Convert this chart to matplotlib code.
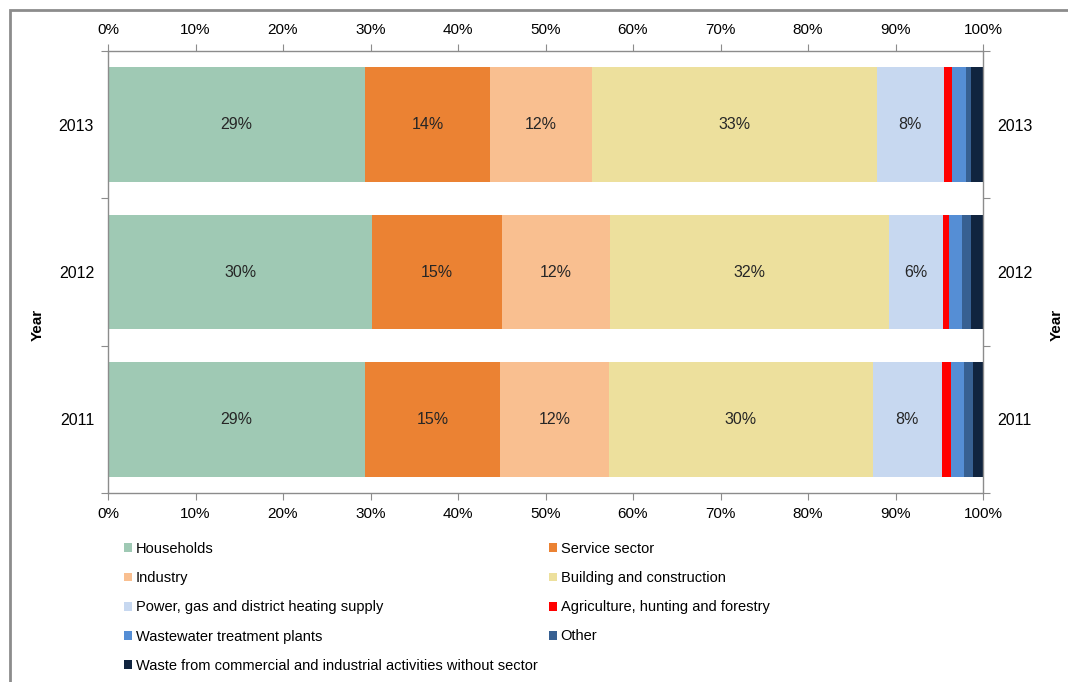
import matplotlib
matplotlib.use("Agg")
import matplotlib.pyplot as plt
from matplotlib.patches import Patch, Rectangle

plt.rcParams['font.family'] = ['Liberation Sans', 'DejaVu Sans']

years = ["2011", "2012", "2013"]
categories = [
    "Households",
    "Service sector",
    "Industry",
    "Building and construction",
    "Power, gas and district heating supply",
    "Agriculture, hunting and forestry",
    "Wastewater treatment plants",
    "Other",
    "Waste from commercial and industrial activities without sector",
]
# shares (%) per category, order: 2011, 2012, 2013
households = [29.4, 30.2, 29.4]
service = [15.4, 14.8, 14.3]
industry = [12.4, 12.4, 11.6]
building = [30.2, 31.9, 32.6]
power = [7.9, 6.1, 7.6]
agriculture = [1.0, 0.7, 1.0]
wastewater = [1.5, 1.5, 1.5]
other = [1.0, 1.0, 0.6]
waste = [1.2, 1.4, 1.4]
series = [households, service, industry, building, power,
          agriculture, wastewater, other, waste]
colors = ["#9FC9B4", "#EB8233", "#F9BF90", "#EDE09D", "#C7D8F0",
          "#FF0000", "#558ED5", "#376092", "#10243F"]
xticks = [0, 10, 20, 30, 40, 50, 60, 70, 80, 90, 100]

W, H = 1068, 682
fig = plt.figure(figsize=(W / 100, H / 100), dpi=100)
ax = fig.add_axes([108 / W, 1 - 493 / H, (983 - 108) / W, (493 - 51) / H])

# figure frame
fig.patches.append(Rectangle((10 / W, -0.1), 1.2, 1.1 - 10 / H, transform=fig.transFigure,
                             fill=False, edgecolor="#8c8c8c", linewidth=2))

ypos = list(range(len(years)))
left = [0.0] * len(years)
for name, vals, col in zip(categories, series, colors):
    ax.barh(ypos, vals, left=left, height=0.78, color=col, label=name, linewidth=0)
    for y, v, l in zip(ypos, vals, left):
        if v >= 5:
            ax.text(l + v / 2, y, f"{round(v):.0f}%", ha="center", va="center",
                    fontsize=11.5, color="#262626")
    left = [a + b for a, b in zip(left, vals)]

ax.set_xlim(0, 100)
ax.set_ylim(-0.5, 2.5)
ax.set_xticks(xticks)
ax.set_xticklabels([f"{t}%" for t in xticks])
ax.tick_params(axis="x", which="major", top=True, labeltop=True, bottom=True, labelbottom=True,
               direction="out", length=5, color="#8c8c8c", labelsize=11, pad=5)
ax.set_yticks([-0.5, 0.5, 1.5, 2.5])
ax.set_yticklabels([])
ax.set_yticks(ypos, minor=True)
ax.set_yticklabels(years, minor=True)
ax.tick_params(axis="y", which="major", left=True, right=True, direction="out",
               length=5, color="#8c8c8c")
ax.tick_params(axis="y", which="minor", left=True, right=True, labelleft=True, labelright=True,
               length=0, labelsize=11.5, pad=10)
for s in ax.spines.values():
    s.set_color("#8c8c8c")
    s.set_linewidth(1.0)

fig.text(38 / W, 1 - 325 / H, "Year", rotation=90, ha="center", va="center",
         fontsize=11, fontweight="bold")
fig.text(1057 / W, 1 - 325 / H, "Year", rotation=90, ha="center", va="center",
         fontsize=11, fontweight="bold")

handles = [Patch(facecolor=c, edgecolor="none", label=n) for n, c in zip(categories, colors)]
col1 = [handles[i] for i in (0, 2, 4, 6, 8)]
col2 = [handles[i] for i in (1, 3, 5, 7)]
common = dict(frameon=False, fontsize=10.5, handlelength=0.55, handleheight=0.55,
              handletextpad=0.25, labelspacing=1.04, borderpad=0, borderaxespad=0)
fig.legend(handles=col1, loc="upper left", bbox_to_anchor=(124 / W, 1 - 542 / H), **common)
fig.legend(handles=col2, loc="upper left", bbox_to_anchor=(549 / W, 1 - 542 / H), **common)

fig.savefig("out.png", dpi=100)
